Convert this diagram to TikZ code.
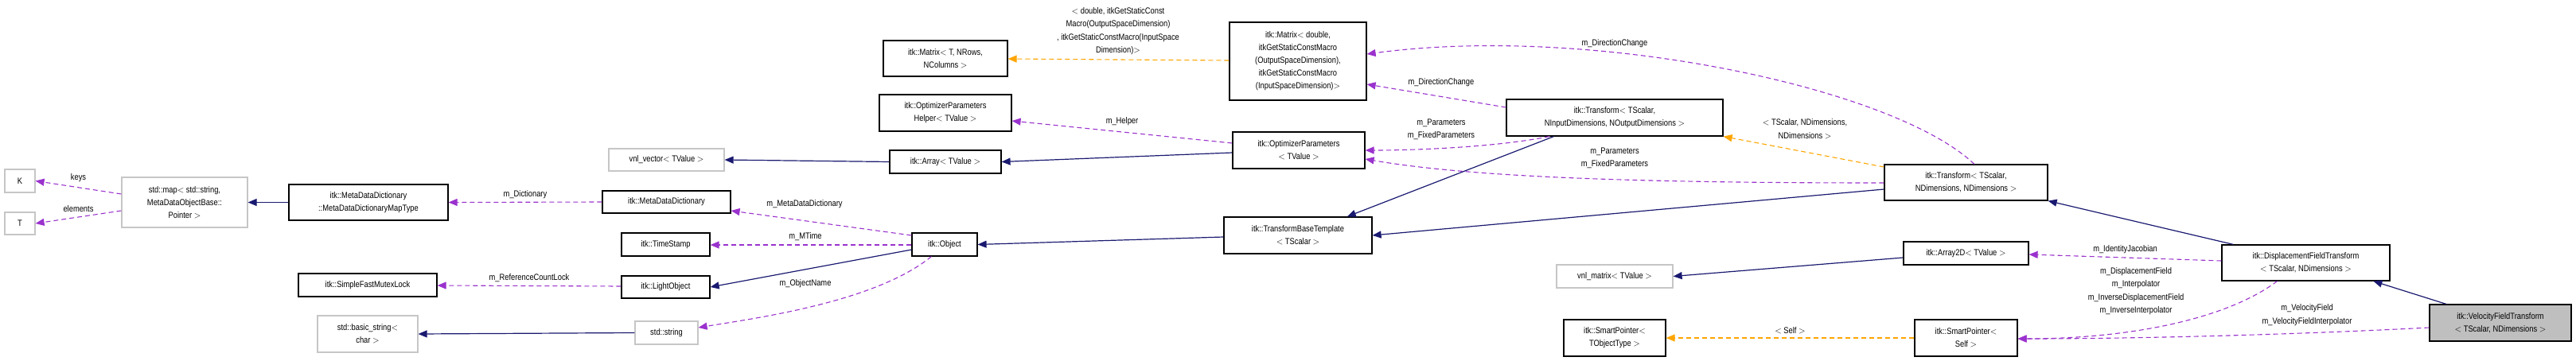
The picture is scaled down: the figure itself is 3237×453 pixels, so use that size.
\documentclass[tikz,border=0pt]{standalone}
\usepackage{fontspec}
\setmainfont{Liberation Sans}[FakeStretch=0.85]
\usetikzlibrary{arrows.meta,calc}
\definecolor{inh}{HTML}{191970}
\definecolor{use}{HTML}{9A32CD}
\definecolor{tpl}{HTML}{FFA500}
\tikzset{
 doc/.style={draw=black,line width=1.2pt,fill=white,align=center,inner sep=1pt,font=\fontsize{11}{16}\selectfont},
 ext/.style={doc,draw=gray!45},
 me/.style={doc,fill=gray!50},
 inhE/.style={-{Triangle[width=9pt,length=11pt,fill=inh]},draw=inh,line width=1.2pt},
 useE/.style={-{Triangle[width=9pt,length=11pt,fill=use]},draw=use,line width=1.1pt,dash pattern=on 6pt off 4pt},
 tplE/.style={-{Triangle[width=9pt,length=11pt,fill=tpl]},draw=tpl,line width=1.1pt,dash pattern=on 6pt off 4pt},
 lab/.style={align=center,font=\fontsize{11}{16.5}\selectfont,inner sep=0pt}
}
\newcommand\bx[7]{\node[#7,minimum width={(#3-#2)*1pt},minimum height={(#5-#4)*1pt}] (#1) at ({(#2+#3)/2},{(#4+#5)/2}) {#6};}
\begin{document}
\begin{tikzpicture}[x=1pt,y=-1pt]
\useasboundingbox (0,0) rectangle (3237,453);
\bx{K}{6}{44}{213}{242}{K}{ext}
\bx{T}{6}{44}{267}{295}{T}{ext}
\bx{map}{153}{311}{223}{286}{std::map$<$ std::string,\\ MetaDataObjectBase::\\Pointer $>$}{ext}
\bx{mdt}{363}{563}{232}{277}{itk::MetaDataDictionary\\::MetaDataDictionaryMapType}{doc}
\bx{mdd}{757}{918}{240}{268}{itk::MetaDataDictionary}{doc}
\bx{vnlv}{765}{910}{187}{215}{vnl\_vector$<$ TValue $>$}{ext}
\bx{ts}{781}{892}{293}{322}{itk::TimeStamp}{doc}
\bx{sfm}{375}{549}{344}{373}{itk::SimpleFastMutexLock}{doc}
\bx{lo}{781}{892}{347}{375}{itk::LightObject}{doc}
\bx{bs}{399}{525}{397}{443}{std::basic\_string$<$\\char $>$}{ext}
\bx{str}{798}{877}{404}{433}{std::string}{ext}
\bx{mat}{1110}{1266}{51}{96}{itk::Matrix$<$ T, NRows,\\NColumns $>$}{doc}
\bx{oph}{1105}{1271}{119}{165}{itk::OptimizerParameters\\Helper$<$ TValue $>$}{doc}
\bx{arr}{1118}{1258}{189}{218}{itk::Array$<$ TValue $>$}{doc}
\bx{obj}{1146}{1228}{293}{322}{itk::Object}{doc}
\bx{matd}{1545}{1717}{28}{126}{itk::Matrix$<$ double,\\itkGetStaticConstMacro\\(OutputSpaceDimension),\\itkGetStaticConstMacro\\(InputSpaceDimension)$>$}{doc}
\bx{op}{1549}{1715}{166}{212}{itk::OptimizerParameters\\$<$ TValue $>$}{doc}
\bx{tbt}{1538}{1724}{273}{319}{itk::TransformBaseTemplate\\$<$ TScalar $>$}{doc}
\bx{tin}{1893}{2165}{125}{171}{itk::Transform$<$ TScalar,\\NInputDimensions, NOutputDimensions $>$}{doc}
\bx{vnlm}{1956}{2102}{333}{362}{vnl\_matrix$<$ TValue $>$}{ext}
\bx{spt}{1965}{2093}{402}{448}{itk::SmartPointer$<$\\TObjectType $>$}{doc}
\bx{tnd}{2368}{2573}{207}{252}{itk::Transform$<$ TScalar,\\NDimensions, NDimensions $>$}{doc}
\bx{a2d}{2392}{2549}{304}{333}{itk::Array2D$<$ TValue $>$}{doc}
\bx{dft}{2792}{3003}{308}{353}{itk::DisplacementFieldTransform\\$<$ TScalar, NDimensions $>$}{doc}
\bx{sps}{2406}{2535}{402}{448}{itk::SmartPointer$<$\\Self $>$}{doc}
\bx{vft}{3053}{3231}{383}{429}{itk::VelocityFieldTransform\\$<$ TScalar, NDimensions $>$}{me}
% inheritance
\draw[inhE] (mdt.west) -- (map.east);
\draw[inhE] (arr.west) -- (vnlv.east);
\draw[inhE] (op.west |- 0,192) -- (arr.east);
\draw[inhE] (str.west) -- (bs.east);
\draw[inhE] (tbt.west |- 0,298) -- (obj.east);
\draw[inhE] (obj.west |- 0,314) -- (lo.east);
\draw[inhE] ($(tin.south west)!0.22!(tin.south east)$) -- ($(tbt.north west)!0.83!(tbt.north east)$);
\draw[inhE] (tnd.west |- 0,238) -- (tbt.east);
\draw[inhE] ($(dft.north west)!0.07!(dft.north east)$) -- (tnd.south east);
\draw[inhE] ($(vft.north west)!0.12!(vft.north east)$) -- ($(dft.south west)!0.9!(dft.south east)$);
\draw[inhE] (a2d.west |- 0,324) -- (vnlm.east);
% usage
\draw[useE] (map.west |- 0,244) -- (K.east) node[lab,midway,above=6pt]{keys};
\draw[useE] (map.west |- 0,265) -- (T.east) node[lab,midway,above=6pt]{elements};
\draw[useE] (mdd.west) -- (mdt.east) node[lab,midway,above=4pt]{m\_Dictionary};
\draw[useE] (obj.west |- 0,296) -- (mdd.east |- 0,265);
\node[lab] (l1) at (1011,257) {m\_MetaDataDictionary};
\draw[useE] (obj.west |- 0,308) -- (ts.east |- 0,308);
\node[lab] (l2) at (1012,298) {m\_MTime};
\draw[useE] (lo.west |- 0,360) -- (sfm.east |- 0,359) node[lab,midway,above=4pt]{m\_ReferenceCountLock};
\draw[useE] ($(obj.south west)!0.3!(obj.south east)$) .. controls (1100,380) and (950,400) .. (str.east |- 0,412);
\node[lab] (l3) at (1012,357) {m\_ObjectName};
\draw[useE] (op.west |- 0,180) -- (oph.east |- 0,152) node[lab,midway,above=8pt]{m\_Helper};
\draw[useE] (tin.west |- 0,135) -- (matd.east |- 0,106);
\node[lab] (l4) at (1811,104) {m\_DirectionChange};
\draw[useE] ($(tnd.north west)!0.55!(tnd.north east)$) .. controls (2380,110) and (2000,30) .. (matd.east |- 0,68);
\node[lab] (l5) at (2029,55) {m\_DirectionChange};
\draw[useE] ($(tin.south west)!0.2!(tin.south east)$) .. controls (1880,185) and (1780,189) .. (op.east |- 0,189);
\node[lab] (l6) at (1811,163) {m\_Parameters\\m\_FixedParameters};
\draw[useE] (tnd.west |- 0,230) .. controls (2100,230) and (1860,225) .. (op.east |- 0,200);
\node[lab] (l7) at (2029,199) {m\_Parameters\\m\_FixedParameters};
\draw[useE] (dft.west |- 0,328) -- (a2d.east |- 0,320) node[lab,midway,above=5pt]{m\_IdentityJacobian};
\draw[useE] ($(dft.south west)!0.33!(dft.south east)$) .. controls (2800,400) and (2680,426) .. (sps.east |- 0,426);
\node[lab] (l8) at (2684,366) {m\_DisplacementField\\m\_Interpolator\\m\_InverseDisplacementField\\m\_InverseInterpolator};
\draw[useE] (vft.west |- 0,412) .. controls (2900,420) and (2700,426) .. (sps.east |- 0,426);
\node[lab] (l9) at (2899,396) {m\_VelocityField\\m\_VelocityFieldInterpolator};
% template
\draw[tplE] (matd.west |- 0,76) -- (mat.east |- 0,74);
\node[lab] (l10) at (1405,39) {$<$ double, itkGetStaticConst\\Macro(OutputSpaceDimension)\\, itkGetStaticConstMacro(InputSpace\\Dimension)$>$};
\draw[tplE] (tnd.west |- 0,210) -- (tin.south east);
\node[lab] (l11) at (2268,162) {$<$ TScalar, NDimensions,\\NDimensions $>$};
\draw[tplE] (sps.west |- 0,425) -- (spt.east |- 0,425) node[lab,midway,above=5pt]{$<$ Self $>$};
\end{tikzpicture}
\end{document}
